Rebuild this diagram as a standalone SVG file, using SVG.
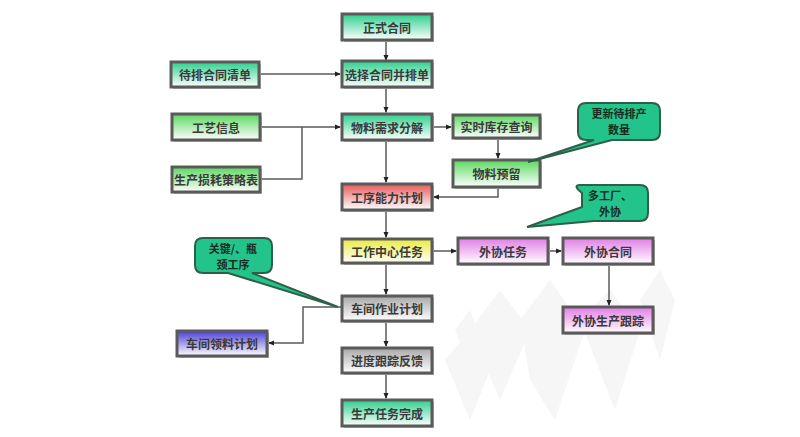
<svg xmlns="http://www.w3.org/2000/svg" width="800" height="437" viewBox="0 0 800 437">
<defs>
<linearGradient id="gTeal" x1="0" y1="0" x2="0" y2="1"><stop offset="0" stop-color="#2ecf8c"/><stop offset="1" stop-color="#ffffff"/></linearGradient>
<linearGradient id="gLime" x1="0" y1="0" x2="0" y2="1"><stop offset="0" stop-color="#5cd860"/><stop offset="1" stop-color="#ffffff"/></linearGradient>
<linearGradient id="gRed" x1="0" y1="0" x2="0" y2="1"><stop offset="0" stop-color="#e65a5a"/><stop offset="1" stop-color="#ffffff"/></linearGradient>
<linearGradient id="gYel" x1="0" y1="0" x2="0" y2="1"><stop offset="0" stop-color="#eaea40"/><stop offset="1" stop-color="#ffffff"/></linearGradient>
<linearGradient id="gPink" x1="0" y1="0" x2="0" y2="1"><stop offset="0" stop-color="#e17de6"/><stop offset="1" stop-color="#ffffff"/></linearGradient>
<linearGradient id="gGray" x1="0" y1="0" x2="0" y2="1"><stop offset="0" stop-color="#a8a8a8"/><stop offset="1" stop-color="#ffffff"/></linearGradient>
<linearGradient id="gBlue" x1="0" y1="0" x2="0" y2="1"><stop offset="0" stop-color="#4b3fd8"/><stop offset="1" stop-color="#ffffff"/></linearGradient>
<marker id="arr" markerWidth="6" markerHeight="6" refX="5" refY="3" orient="auto" markerUnits="userSpaceOnUse"><path d="M0,0.5 L6,3 L0,5.5 Z" fill="#222"/></marker>
<style>
.box{stroke:#5a5a5a;stroke-width:3}
.sh{fill:#bdbdbd}
.t{font-family:"Noto Sans CJK SC","Liberation Sans",sans-serif;font-size:12px;font-weight:bold;fill:#3a3a3a;text-anchor:middle;dominant-baseline:central}
.c{fill:none;stroke:#5a5a5a;stroke-width:1.5}
.call{fill:#22c48c;stroke:#2f5f48;stroke-width:2}
.ct{font-family:"Noto Sans CJK SC","Liberation Sans",sans-serif;font-size:11px;font-weight:bold;fill:#1a2a22;text-anchor:middle}
.wm{fill:#f6f6f6}
</style>
</defs>
<rect width="800" height="437" fill="#ffffff"/>
<g id="watermark">
<polygon class="wm" points="470,330 500,290 530,330 500,400" />
<polygon class="wm" points="520,320 550,280 585,330 555,420 530,380" />
<polygon class="wm" points="580,320 610,290 640,330 615,410" />
<polygon class="wm" points="640,300 660,270 675,300 660,360" />
<polygon class="wm" points="445,360 470,330 490,370 470,420" />
<polygon class="wm" points="455,330 470,310 480,335 468,360" />
</g>
<g id="connectors">
<path class="c" d="M386,41 V60" marker-end="url(#arr)"/>
<path class="c" d="M260,74 H340" marker-end="url(#arr)"/>
<path class="c" d="M386,88 V112" marker-end="url(#arr)"/>
<path class="c" d="M260,127 H340" marker-end="url(#arr)"/>
<path class="c" d="M260,179 H302 V127"/>
<path class="c" d="M432,127 H451" marker-end="url(#arr)"/>
<path class="c" d="M498,139 V158" marker-end="url(#arr)"/>
<path class="c" d="M498,187 V197 H434" marker-end="url(#arr)"/>
<path class="c" d="M386,141 V182" marker-end="url(#arr)"/>
<path class="c" d="M386,211 V237" marker-end="url(#arr)"/>
<path class="c" d="M432,251 H456" marker-end="url(#arr)"/>
<path class="c" d="M548,251 H561" marker-end="url(#arr)"/>
<path class="c" d="M609,265 V305" marker-end="url(#arr)"/>
<path class="c" d="M386,264 V294" marker-end="url(#arr)"/>
<path class="c" d="M342,307 H303 V343 H269" marker-end="url(#arr)"/>
<path class="c" d="M386,322 V346" marker-end="url(#arr)"/>
<path class="c" d="M386,374 V398" marker-end="url(#arr)"/>
</g>
<g id="n1"><rect class="sh" x="344" y="16" width="90" height="26"/><rect class="box" x="342" y="14" width="90" height="26" fill="url(#gTeal)"/><text class="t" x="387" y="27">正式合同</text></g>
<g id="n2"><rect class="sh" x="344" y="63" width="90" height="26"/><rect class="box" x="342" y="61" width="90" height="26" fill="url(#gTeal)"/><text class="t" x="387" y="74">选择合同并排单</text></g>
<g id="n3"><rect class="sh" x="173" y="64" width="88" height="25"/><rect class="box" x="171" y="62" width="88" height="25" fill="url(#gTeal)"/><text class="t" x="215" y="74.5">待排合同清单</text></g>
<g id="n4"><rect class="sh" x="174" y="116" width="88" height="26"/><rect class="box" x="172" y="114" width="88" height="26" fill="url(#gLime)"/><text class="t" x="216" y="127">工艺信息</text></g>
<g id="n5"><rect class="sh" x="344" y="116" width="90" height="26"/><rect class="box" x="342" y="114" width="90" height="26" fill="url(#gTeal)"/><text class="t" x="387" y="127">物料需求分解</text></g>
<g id="n6"><rect class="sh" x="174" y="169" width="88" height="25"/><rect class="box" x="172" y="167" width="88" height="25" fill="url(#gLime)"/><text class="t" x="216" y="179.5">生产损耗策略表</text></g>
<g id="n7"><rect class="sh" x="455" y="117" width="87" height="23"/><rect class="box" x="453" y="115" width="87" height="23" fill="url(#gLime)"/><text class="t" x="496.5" y="126.5">实时库存查询</text></g>
<g id="n8"><rect class="sh" x="455" y="162" width="87" height="27"/><rect class="box" x="453" y="160" width="87" height="27" fill="url(#gLime)"/><text class="t" x="496.5" y="173.5">物料预留</text></g>
<g id="n9"><rect class="sh" x="344" y="186" width="90" height="26"/><rect class="box" x="342" y="184" width="90" height="26" fill="url(#gRed)"/><text class="t" x="387" y="197">工序能力计划</text></g>
<g id="n10"><rect class="sh" x="344" y="241" width="90" height="24"/><rect class="box" x="342" y="239" width="90" height="24" fill="url(#gYel)"/><text class="t" x="387" y="251">工作中心任务</text></g>
<g id="n11"><rect class="sh" x="460" y="240" width="90" height="26"/><rect class="box" x="458" y="238" width="90" height="26" fill="url(#gPink)"/><text class="t" x="503" y="251">外协任务</text></g>
<g id="n12"><rect class="sh" x="565" y="240" width="90" height="26"/><rect class="box" x="563" y="238" width="90" height="26" fill="url(#gPink)"/><text class="t" x="608" y="251">外协合同</text></g>
<g id="n13"><rect class="sh" x="565" y="309" width="90" height="26"/><rect class="box" x="563" y="307" width="90" height="26" fill="url(#gPink)"/><text class="t" x="608" y="320">外协生产跟踪</text></g>
<g id="n14"><rect class="sh" x="344" y="298" width="90" height="25"/><rect class="box" x="342" y="296" width="90" height="25" fill="url(#gGray)"/><text class="t" x="387" y="308.5">车间作业计划</text></g>
<g id="n15"><rect class="sh" x="179" y="333" width="90" height="25"/><rect class="box" x="177" y="331" width="90" height="25" fill="url(#gBlue)"/><text class="t" x="222" y="343.5">车间领料计划</text></g>
<g id="n16"><rect class="sh" x="344" y="350" width="90" height="25"/><rect class="box" x="342" y="348" width="90" height="25" fill="url(#gGray)"/><text class="t" x="387" y="360.5">进度跟踪反馈</text></g>
<g id="n17"><rect class="sh" x="344" y="402" width="90" height="26"/><rect class="box" x="342" y="400" width="90" height="26" fill="url(#gTeal)"/><text class="t" x="387" y="413">生产任务完成</text></g>
<g id="callout1"><path class="call" d="M586,103 H652 Q660,103 660,111 V132 Q660,140 652,140 H612 L528,162 L594,140 H586 Q578,140 578,132 V111 Q578,103 586,103 Z"/><text class="ct" x="619" y="118">更新待排产</text><text class="ct" x="619" y="134">数量</text></g>
<g id="callout2"><path class="call" d="M580,185 H640 Q648,185 648,193 V213 Q648,221 640,221 H594 L527,227 L582,207 V193 Q572,185 580,185 Z"/><text class="ct" x="610" y="200">多工厂、</text><text class="ct" x="610" y="216">外协</text></g>
<g id="callout3"><path class="call" d="M203,238 H264 Q272,238 272,246 V265 Q272,273 264,273 H252 L338,307 L228,273 H203 Q195,273 195,265 V246 Q195,238 203,238 Z"/><text class="ct" x="233" y="253">关键/、瓶</text><text class="ct" x="233" y="269">颈工序</text></g>
</svg>
